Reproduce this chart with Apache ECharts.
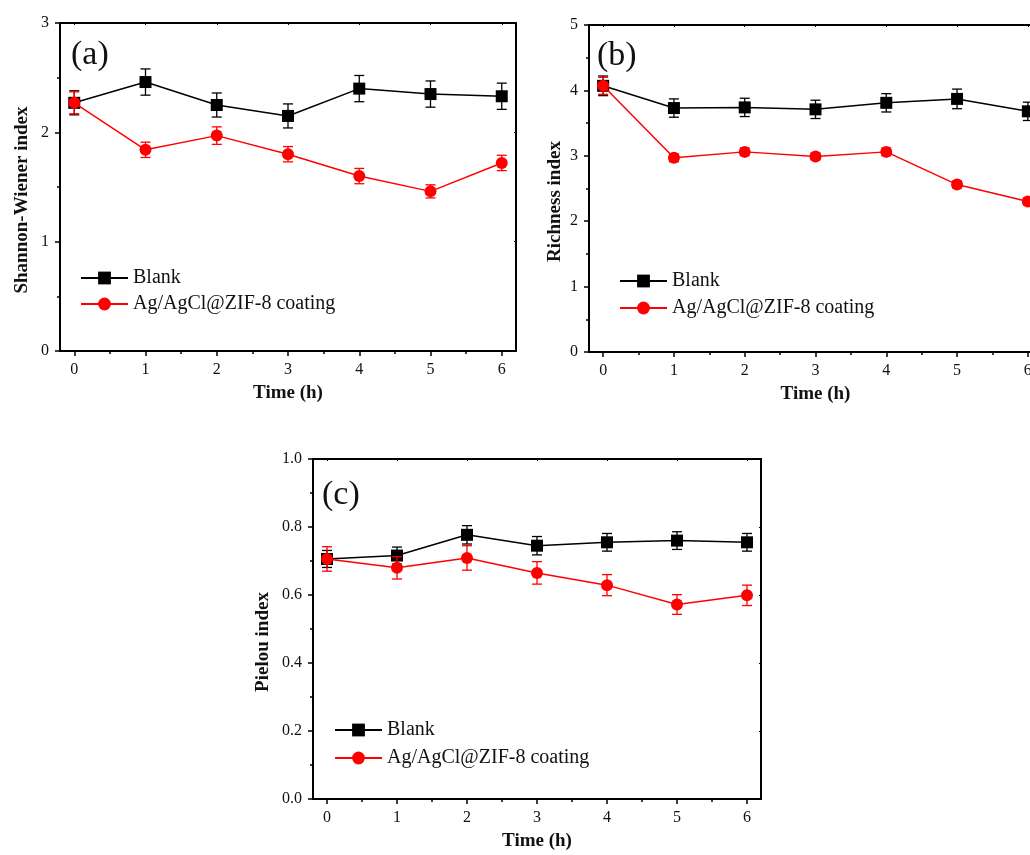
<!DOCTYPE html>
<html lang="en">
<head>
  <meta charset="UTF-8">
  <title>Diversity indices over time</title>
  <script src="https://cdn.jsdelivr.net/npm/echarts@6.0.0/dist/echarts.min.js"></script>
  <style>
    body { margin: 0; background: #fff; overflow: hidden; }
    /* panel (b) runs past the right edge of the figure, so the canvas is a bit wider than the window */
    #chart { width: 1050px; height: 855px; }
  </style>
</head>
<body>
  <div id="chart"></div>
  <script>
    // time points (h)
    const hours = [0, 1, 2, 3, 4, 5, 6];
    const xTicks = [0, 1, 2, 3, 4, 5, 6];
    const xMinorTicks = [0.5, 1.5, 2.5, 3.5, 4.5, 5.5];
    const seriesNames = ['Blank', 'Ag/AgCl@ZIF-8 coating'];

    // (a) Shannon-Wiener
    const shannonBlank = [2.27, 2.46, 2.25, 2.15, 2.40, 2.35, 2.33];
    const shannonBlankErr = [0.11, 0.12, 0.11, 0.11, 0.12, 0.12, 0.12];
    const shannonCoat = [2.27, 1.84, 1.97, 1.80, 1.60, 1.46, 1.72];
    const shannonCoatErr = [0.10, 0.07, 0.08, 0.07, 0.07, 0.06, 0.07];

    // (b) Richness
    const richBlank = [4.07, 3.73, 3.74, 3.71, 3.81, 3.87, 3.68];
    const richBlankErr = [0.15, 0.14, 0.14, 0.14, 0.14, 0.15, 0.14];
    const richCoat = [4.07, 2.97, 3.06, 2.99, 3.06, 2.56, 2.30];
    const richCoatErr = [0.13, 0.06, 0.06, 0.05, 0.06, 0.05, 0.05];

    // (c) Pielou
    const pielouBlank = [0.706, 0.716, 0.777, 0.745, 0.755, 0.760, 0.755];
    const pielouBlankErr = [0.025, 0.025, 0.027, 0.027, 0.026, 0.026, 0.026];
    const pielouCoat = [0.706, 0.680, 0.709, 0.665, 0.629, 0.572, 0.599];
    const pielouCoatErr = [0.036, 0.033, 0.036, 0.033, 0.031, 0.029, 0.030];

    const FONT = 'Liberation Serif';
    const INK = '#111';

    const panels = [
      { tag: '(a)', yName: 'Shannon-Wiener index', yMax: 3, yStep: 1, yDigits: 0,
        box: { left: 60, top: 23, width: 456, height: 328 }, nameGap: 28,
        legend: { left: 80, top: 268, gap: 6 }, tagPos: { left: 71, top: 38 },
        blank: shannonBlank, blankErr: shannonBlankErr, coat: shannonCoat, coatErr: shannonCoatErr },
      { tag: '(b)', yName: 'Richness index', yMax: 5, yStep: 1, yDigits: 0,
        box: { left: 589, top: 25, width: 453, height: 327 }, nameGap: 24,
        legend: { left: 619, top: 271, gap: 7 }, tagPos: { left: 597, top: 39 },
        blank: richBlank, blankErr: richBlankErr, coat: richCoat, coatErr: richCoatErr },
      { tag: '(c)', yName: 'Pielou index', yMax: 1, yStep: 0.2, yDigits: 1,
        box: { left: 313, top: 459, width: 448, height: 340 }, nameGap: 40,
        legend: { left: 334, top: 720, gap: 8 }, tagPos: { left: 322, top: 478 },
        blank: pielouBlank, blankErr: pielouBlankErr, coat: pielouCoat, coatErr: pielouCoatErr }
    ];

    const grid = [], xAxis = [], yAxis = [], series = [], legend = [], title = [];

    function errSeries(g, ys, errs, color, z) {
      return {
        type: 'custom',
        xAxisIndex: 3 * g, yAxisIndex: 2 * g,
        z: z, silent: true,
        data: hours.map((h, i) => [h, ys[i], errs[i]]),
        renderItem: function (params, api) {
          const x = api.value(0), y = api.value(1), e = api.value(2);
          const top = api.coord([x, y + e]);
          const bot = api.coord([x, y - e]);
          const w = 5;
          const st = { stroke: color, lineWidth: 1.3 };
          return {
            type: 'group',
            children: [
              { type: 'line', shape: { x1: top[0], y1: top[1], x2: bot[0], y2: bot[1] }, style: st },
              { type: 'line', shape: { x1: top[0] - w, y1: top[1], x2: top[0] + w, y2: top[1] }, style: st },
              { type: 'line', shape: { x1: bot[0] - w, y1: bot[1], x2: bot[0] + w, y2: bot[1] }, style: st }
            ]
          };
        }
      };
    }

    panels.forEach((p, g) => {
      grid.push(Object.assign({ containLabel: false }, p.box));

      const xBase = { type: 'value', gridIndex: g, min: -0.2, max: 6.2, splitLine: { show: false } };
      // bottom axis with labels and major ticks
      xAxis.push(Object.assign({}, xBase, {
        position: 'bottom',
        name: 'Time (h)', nameLocation: 'middle', nameGap: 33,
        nameTextStyle: { fontFamily: FONT, fontSize: 19, fontWeight: 'bold', color: INK },
        axisLine: { onZero: false, lineStyle: { color: '#000', width: 2 } },
        axisTick: { customValues: xTicks, length: 5, lineStyle: { color: '#000', width: 1.5 } },
        axisLabel: { customValues: xTicks, margin: 11, fontFamily: FONT, fontSize: 16, color: INK }
      }));
      // minor ticks
      xAxis.push(Object.assign({}, xBase, {
        position: 'bottom',
        axisLine: { show: false, onZero: false },
        axisTick: { customValues: xMinorTicks, length: 3, lineStyle: { color: '#000', width: 1.5 } },
        axisLabel: { show: false }
      }));
      // top frame
      xAxis.push(Object.assign({}, xBase, {
        position: 'top',
        axisLine: { onZero: false, lineStyle: { color: '#000', width: 2 } },
        axisTick: { customValues: xTicks, inside: true, length: 2, lineStyle: { color: '#000' } },
        axisLabel: { show: false }
      }));

      yAxis.push({
        type: 'value', gridIndex: g, position: 'left',
        min: 0, max: p.yMax, interval: p.yStep,
        splitLine: { show: false },
        name: p.yName, nameLocation: 'middle', nameGap: p.nameGap,
        nameTextStyle: { fontFamily: FONT, fontSize: 19, fontWeight: 'bold', color: INK, padding: [0, 26, 0, 0] },
        axisLine: { show: true, onZero: false, lineStyle: { color: '#000', width: 2 } },
        axisTick: { show: true, length: 5, lineStyle: { color: '#000', width: 1.5 } },
        minorTick: { show: true, splitNumber: 2, length: 3, lineStyle: { color: '#000', width: 1.5 } },
        axisLabel: { margin: 11, fontFamily: FONT, fontSize: 16, color: INK,
          formatter: v => v.toFixed(p.yDigits) }
      });
      yAxis.push({
        type: 'value', gridIndex: g, position: 'right',
        min: 0, max: p.yMax, interval: p.yStep,
        splitLine: { show: false },
        axisLine: { show: true, onZero: false, lineStyle: { color: '#000', width: 2 } },
        axisTick: { show: true, inside: true, length: 2, lineStyle: { color: '#000' } },
        axisLabel: { show: false }
      });

      series.push(errSeries(g, p.blank, p.blankErr, '#000', 2));
      series.push({
        name: seriesNames[0], type: 'line', xAxisIndex: 3 * g, yAxisIndex: 2 * g, z: 3,
        data: hours.map((h, i) => [h, p.blank[i]]),
        symbol: 'rect', symbolSize: 12,
        itemStyle: { color: '#000' }, lineStyle: { color: '#000', width: 1.5 },
        emphasis: { disabled: true }
      });
      series.push(errSeries(g, p.coat, p.coatErr, '#ff0000', 4));
      series.push({
        name: seriesNames[1], type: 'line', xAxisIndex: 3 * g, yAxisIndex: 2 * g, z: 5,
        data: hours.map((h, i) => [h, p.coat[i]]),
        symbol: 'circle', symbolSize: 12,
        itemStyle: { color: '#ff0000' }, lineStyle: { color: '#ff0000', width: 1.5 },
        emphasis: { disabled: true }
      });

      legend.push({
        data: seriesNames, orient: 'vertical',
        left: p.legend.left, top: p.legend.top, padding: 0, itemGap: p.legend.gap,
        itemWidth: 47, itemHeight: 16, selectedMode: false,
        textStyle: { fontFamily: FONT, fontSize: 20, color: INK }
      });

      title.push({
        text: p.tag, left: p.tagPos.left, top: p.tagPos.top, padding: 0,
        textStyle: { fontFamily: FONT, fontSize: 34, fontWeight: 'normal', color: INK }
      });
    });

    const chart = echarts.init(document.getElementById('chart'));
    chart.setOption({
      animation: false,
      backgroundColor: '#fff',
      title: title,
      legend: legend,
      grid: grid,
      xAxis: xAxis,
      yAxis: yAxis,
      series: series
    });
  </script>
</body>
</html>
